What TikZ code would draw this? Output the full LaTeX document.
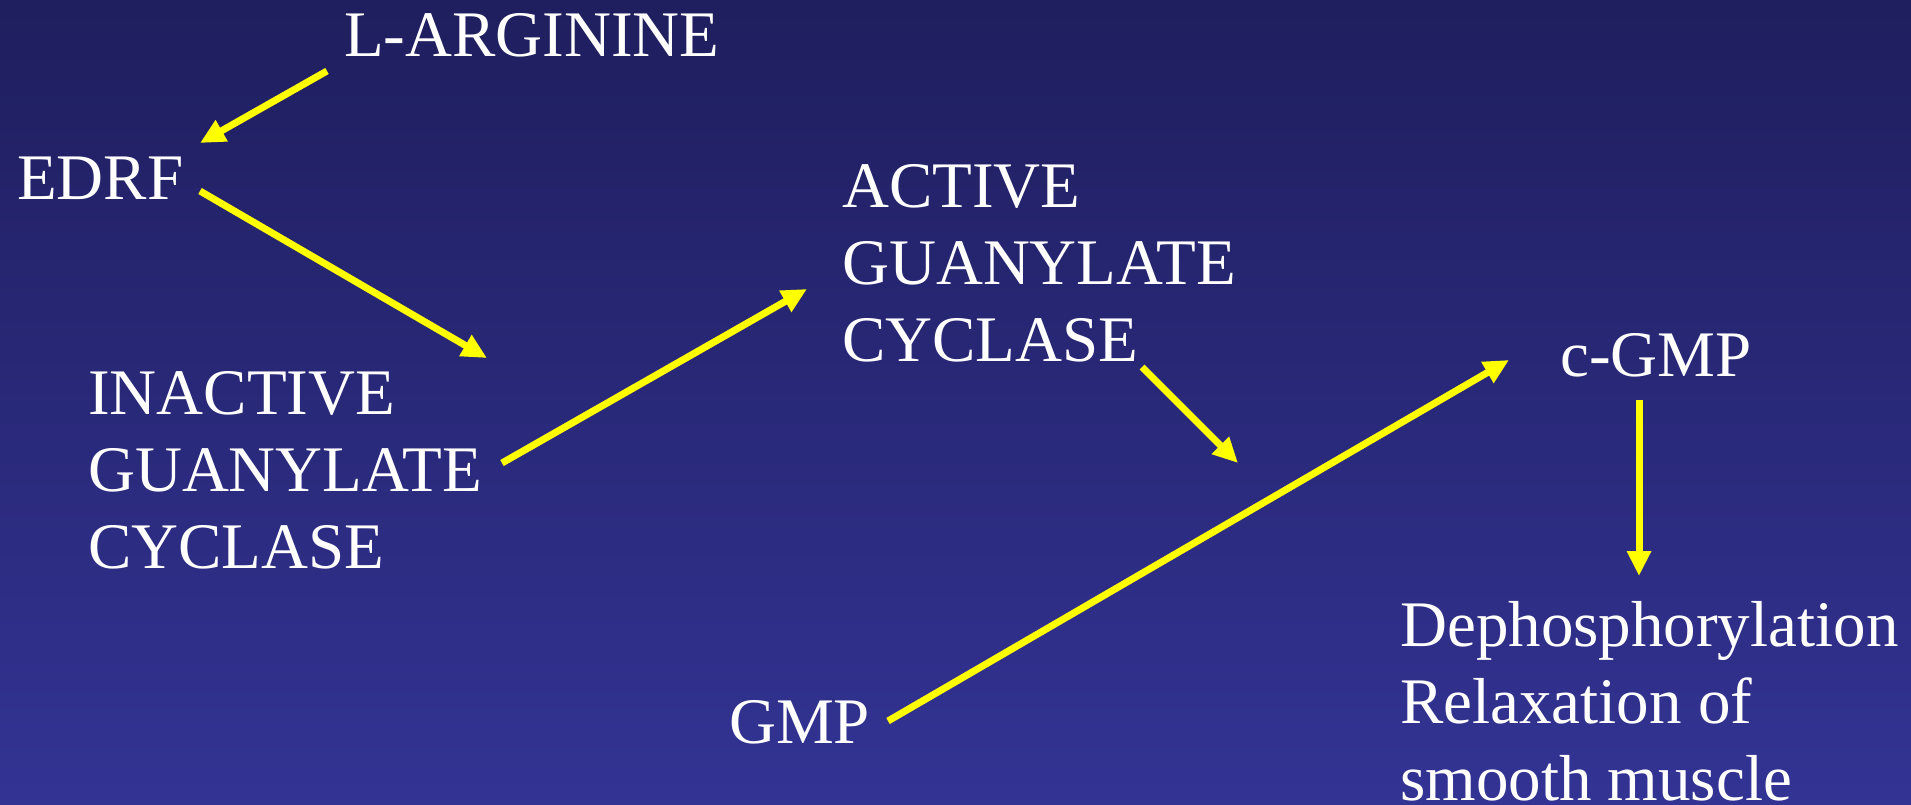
\documentclass[tikz,border=0pt]{standalone}
\usepackage{fontspec}
\setmainfont{Liberation Serif}
\usetikzlibrary{arrows.meta}
\definecolor{bgtop}{RGB}{31,30,94}
\definecolor{bgbot}{RGB}{51,51,148}
\definecolor{arrowyellow}{RGB}{255,255,0}
\tikzset{
  lbl/.style={anchor=base west, inner sep=0pt, text=white, align=left,
              font=\fontsize{65}{77}\selectfont},
  arr/.style={draw=arrowyellow, line width=7pt, line cap=butt,
              -{Triangle[length=25pt,width=23pt]}}
}
\begin{document}
\begin{tikzpicture}[x=1pt,y=1pt]
\useasboundingbox (0,0) rectangle (1911,-804);
\shade[top color=bgtop, bottom color=bgbot] (0,0) rectangle (1911,-804);

% multi-line nodes: base anchor is the baseline of the last line
\node[lbl] (larg) at (344,-56) {L-ARGININE};
\node[lbl] (edrf) at (17,-199) {EDRF};
\node[lbl] (inact) at (88,-568) {INACTIVE\\GUANYLATE\\CYCLASE};
\node[lbl] (act) at (842,-361) {ACTIVE\\GUANYLATE\\CYCLASE};
\node[lbl] (gmp) at (729,-743) {GMP};
\node[lbl] (cgmp) at (1560,-376) {c-GMP};
\node[lbl] (deph) at (1400,-800) {Dephosphorylation\\Relaxation of\\smooth muscle};
\coordinate (mid) at (1238,-463);

\draw[arr] ([shift={(-17,-15)}]larg.base west) -- ([shift={(183,56)}]edrf.base west);
\draw[arr] ([shift={(183,8)}]edrf.base west) -- ([shift={(399,210)}]inact.base west);
\draw[arr] ([shift={(414,105)}]inact.base west) -- ([shift={(-35,72)}]act.base west);
\draw[arr] ([shift={(300,-6)}]act.base west) -- (mid);
\draw[arr] ([shift={(159,22)}]gmp.base west) -- ([shift={(-51,16)}]cgmp.base west);
\draw[arr] ([shift={(79,-24)}]cgmp.base west) -- ([shift={(239,224)}]deph.base west);
\end{tikzpicture}
\end{document}
